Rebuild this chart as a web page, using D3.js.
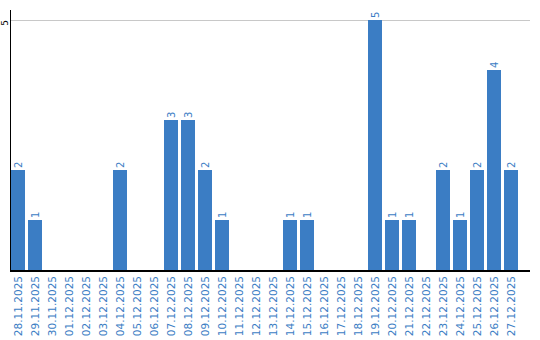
<!DOCTYPE html>
<html>
<head>
  <meta charset="utf-8">
  <title>Daily counts</title>
  <script src="https://cdn.jsdelivr.net/npm/d3@7"></script>
  <style>
    body { margin: 0; background: #fff; font-family: "DejaVu Sans", Verdana, sans-serif; }
  </style>
</head>
<body>
  <script>
    // dates and counts
    var dates = ["28.11.2025", "29.11.2025", "30.11.2025", "01.12.2025", "02.12.2025",
                 "03.12.2025", "04.12.2025", "05.12.2025", "06.12.2025", "07.12.2025",
                 "08.12.2025", "09.12.2025", "10.12.2025", "11.12.2025", "12.12.2025",
                 "13.12.2025", "14.12.2025", "15.12.2025", "16.12.2025", "17.12.2025",
                 "18.12.2025", "19.12.2025", "20.12.2025", "21.12.2025", "22.12.2025",
                 "23.12.2025", "24.12.2025", "25.12.2025", "26.12.2025", "27.12.2025"];
    var counts = [2, 1, 0, 0, 0, 0, 2, 0, 0, 3, 3, 2, 1, 0, 0, 0, 1, 1, 0, 0, 0, 5, 1, 1, 0, 2, 1, 2, 4, 2];
    var yTicks = [5];

    var width = 540, height = 340;
    var blue = "#3b7dc4";

    var svg = d3.select("body").append("svg")
      .attr("width", width)
      .attr("height", height);

    var x = d3.scaleBand()
      .domain(dates)
      .range([9.5, 519.5])
      .paddingInner(3 / 17)
      .paddingOuter(1.5 / 17);

    var y = d3.scaleLinear()
      .domain([0, 5.2])
      .range([270, 10]);

    var data = dates.map((d, i) => ({date: d, value: counts[i]}));

    // grid line
    svg.append("g")
      .selectAll("line")
      .data(yTicks)
      .enter().append("line")
        .attr("x1", 11).attr("x2", 530)
        .attr("y1", d => y(d) + 0.5).attr("y2", d => y(d) + 0.5)
        .attr("stroke", "#c8c8c8");

    // bars
    svg.append("g")
      .selectAll("rect")
      .data(data)
      .enter().append("rect")
        .attr("x", d => x(d.date))
        .attr("width", x.bandwidth())
        .attr("y", d => y(d.value))
        .attr("height", d => y(0) - y(d.value))
        .attr("fill", blue);

    // value labels
    svg.append("g")
      .selectAll("text")
      .data(data.filter(d => d.value > 0))
      .enter().append("text")
        .attr("transform", d => "translate(" + (x(d.date) + x.bandwidth() / 2) + "," + (y(d.value) - 2) + ") rotate(-90)")
        .attr("dy", "0.35em")
        .attr("font-size", "10px")
        .attr("fill", blue)
        .text(d => d.value);

    // y axis
    svg.append("line")
      .attr("x1", 10.5).attr("x2", 10.5)
      .attr("y1", 10).attr("y2", 271)
      .attr("stroke", "#000");

    svg.append("g")
      .selectAll("text")
      .data(yTicks)
      .enter().append("text")
        .attr("transform", d => "translate(5," + (y(d) + 3) + ") rotate(-90)")
        .attr("dy", "0.35em")
        .attr("text-anchor", "middle")
        .attr("font-size", "9px")
        .attr("fill", "#000")
        .text(d => d);

    // x axis
    svg.append("line")
      .attr("x1", 10).attr("x2", 530)
      .attr("y1", 271).attr("y2", 271)
      .attr("stroke", "#000")
      .attr("stroke-width", 2);

    svg.append("g")
      .selectAll("text")
      .data(dates)
      .enter().append("text")
        .attr("transform", d => "translate(" + (x(d) + x.bandwidth() / 2) + ",276) rotate(-90)")
        .attr("dy", "0.35em")
        .attr("text-anchor", "end")
        .attr("font-size", "10.5px")
        .attr("fill", blue)
        .text(d => d);
  </script>
</body>
</html>
